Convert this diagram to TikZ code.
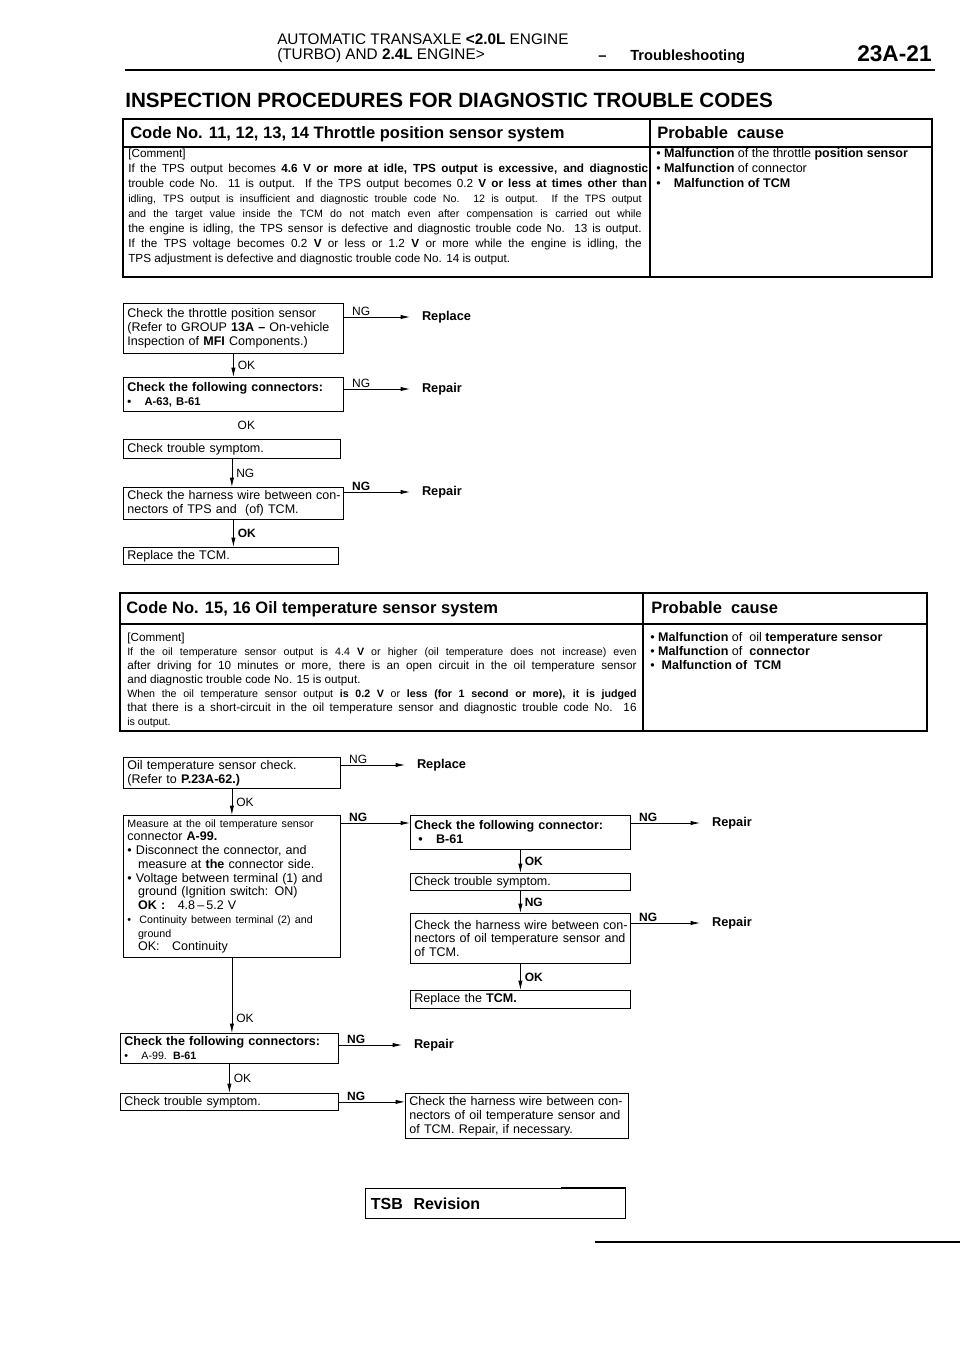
\documentclass[tikz,border=0pt]{standalone}
\usepackage{fontspec}
\setmainfont{Liberation Sans}
\usetikzlibrary{arrows.meta,positioning}

\newcommand{\jl}[2]{\makebox[#1][s]{#2}}
\newcommand{\smf}{\fontsize{8}{10.3}\selectfont}

\begin{document}
\begin{tikzpicture}[x=0.75pt,y=-0.75pt,
    txt/.style={anchor=base west,inner sep=0pt,font=\fontsize{8.8}{10}\selectfont},
    sml/.style={anchor=base west,inner sep=0pt,font=\fontsize{8}{10}\selectfont},
    head/.style={anchor=base west,inner sep=0pt,font=\bfseries\fontsize{12.4}{14}\selectfont},
    cause/.style={anchor=base west,inner sep=0pt,font=\fontsize{9.4}{11}\selectfont},
    flow/.style={draw,line width=0.6pt,anchor=north west,inner xsep=3pt,inner ysep=1pt,
      align=left,font=\fontsize{9.4}{10.4}\selectfont},
    res/.style={anchor=west,inner sep=0pt,outer xsep=9pt,font=\bfseries\fontsize{9.6}{11}\selectfont},
    lbl/.style={inner sep=1pt,font=\fontsize{9}{10}\selectfont},
    lblb/.style={inner sep=1pt,font=\bfseries\fontsize{9}{10}\selectfont},
    ng/.style={anchor=south west,pos=0,xshift=5pt},
    arr/.style={line width=0.6pt,-{Latex[length=7pt,width=3.2pt]}},
    tframe/.style={line width=0.8pt},
    tedge/.style={line width=1.6pt}]
\useasboundingbox (0,0) rectangle (960,1358);

\node[anchor=base west,inner sep=0pt,font=\fontsize{11.5}{13}\selectfont] (hdra) at (277,45) {AUTOMATIC TRANSAXLE \textbf{<2.0L} ENGINE};
\node[anchor=base west,inner sep=0pt,font=\fontsize{11.5}{13}\selectfont] (hdrb) at (277,60) {(TURBO) AND \textbf{2.4L} ENGINE>};
\node[anchor=base west,inner sep=0pt,font=\bfseries\fontsize{11}{13}\selectfont] (dash) at (598,61) {–};
\node[anchor=base west,inner sep=0pt,font=\bfseries\fontsize{11}{13}\selectfont] (trbl) at (630,61) {Troubleshooting};
\node[anchor=base west,inner sep=0pt,font=\bfseries\fontsize{17}{20}\selectfont] (pgno) at (857,62) {23A-21};
\draw[line width=2.2pt] (125,70) -- (935,70);
\node[anchor=base west,inner sep=0pt,font=\bfseries\fontsize{15.5}{18}\selectfont] (ttl) at (125,108) {INSPECTION PROCEDURES FOR DIAGNOSTIC TROUBLE CODES};

\draw[tframe] (123,119) rectangle (932,277);
\draw[tedge] (123,119) -- (123,277) -- (932,277);
\draw[tframe] (123,147) -- (932,147);
\draw[tframe] (650,119) -- (650,277);
\node[head] (code1) at (130,139) {Code No. 11, 12, 13, 14 Throttle position sensor system};
\node[head] (pc1) at (657,139) {Probable\ \ cause};
\node[txt] (c1a) at (128,158) {[Comment]};
\node[txt] (c1b) at (128,173) {\jl{390pt}{If the TPS output becomes \textbf{4.6 V or more at idle, TPS output is excessive, and diagnostic}}};
\node[txt] (c1c) at (128,188) {\jl{389pt}{trouble code No. 11 is output. If the TPS output becomes 0.2 \textbf{V or less at times other than}}};
\node[sml] (c1d) at (128,203) {\jl{385pt}{idling, TPS output is insufficient and diagnostic trouble code No. 12 is output. If the TPS output}};
\node[sml] (c1e) at (128,218) {\jl{385pt}{and the target value inside the TCM do not match even after compensation is carried out while}};
\node[txt] (c1f) at (128,233) {\jl{385pt}{the engine is idling, the TPS sensor is defective and diagnostic trouble code No. 13 is output.}};
\node[txt] (c1g) at (128,248) {\jl{385pt}{If the TPS voltage becomes 0.2 \textbf{V} or less or 1.2 \textbf{V} or more while the engine is idling, the}};
\node[txt] (c1h) at (128,263) {TPS adjustment is defective and diagnostic trouble code No. 14 is output.};
\node[cause] (p1a) at (656,158) {\textbullet\ \textbf{Malfunction} of the throttle \textbf{position sensor}};
\node[cause] (p1b) at (656,173) {\textbullet\ \textbf{Malfunction} of connector};
\node[cause] (p1c) at (656,188) {\textbullet\hspace{10pt}\textbf{Malfunction of TCM}};

\node[flow,text width=159pt,minimum height=37.5pt] (tps) at (123,303) {Check the throttle position sensor\\(Refer to GROUP \textbf{13A –} On-vehicle\\Inspection of \textbf{MFI} Components.)};
\node[res] (rep1) at (410,317) {Replace};
\draw[arr] (tps.east |- rep1.west) -- node[lbl,ng]{NG} (rep1.west);
\node[flow,text width=159pt,minimum height=25.5pt] (conn1) at (123,377) {\textbf{Check the following connectors:}\\{\fontsize{8.4}{10.4}\selectfont\textbf{\textbullet\hspace{10pt}A-63, B-61}}};
\draw[arr] (tps.south) -- node[lbl,right=2pt]{OK} (conn1.north);
\node[res] (rep2) at (410,389) {Repair};
\draw[arr] (conn1.east |- rep2.west) -- node[lbl,ng]{NG} (rep2.west);
\node[flow,text width=156.75pt,minimum height=14.25pt] (symp1) at (123,439) {Check trouble symptom.};
\path (conn1.south) -- node[lbl,right=2pt]{OK} (conn1.south |- symp1.north);
\node[flow,text width=159pt,minimum height=24pt] (harn1) at (123,487) {\mbox{Check the harness wire between con-}\\nectors of TPS and\ \ (of) TCM.};
\draw[arr] (symp1.south) -- node[lbl,right=2pt]{NG} (symp1.south |- harn1.north);
\node[res] (rep3) at (410,492) {Repair};
\draw[arr] (harn1.east |- rep3.west) -- node[lblb,ng]{NG} (rep3.west);
\node[flow,text width=155.25pt,minimum height=12.75pt] (tcm1) at (123,547) {Replace the TCM.};
\draw[arr] (harn1.south) -- node[lblb,right=2pt]{OK} (harn1.south |- tcm1.north);

\draw[tframe] (120,593) rectangle (927,731);
\draw[tedge] (120,593) -- (120,731) -- (927,731);
\draw[tframe] (120,624) -- (927,624);
\draw[tframe] (643,593) -- (643,731);
\node[head] (code2) at (126,613) {Code No. 15, 16 Oil temperature sensor system};
\node[head] (pc2) at (651,613) {Probable\ \ cause};
\node[txt] (c2a) at (127,641) {[Comment]};
\node[sml] (c2b) at (127,655) {\jl{382pt}{If the oil temperature sensor output is 4.4 \textbf{V} or higher (oil temperature does not increase) even}};
\node[txt] (c2c) at (127,669) {\jl{382pt}{after driving for 10 minutes or more, there is an open circuit in the oil temperature sensor}};
\node[txt] (c2d) at (127,683) {and diagnostic trouble code No. 15 is output.};
\node[sml] (c2e) at (127,697) {\jl{382pt}{When the oil temperature sensor output \textbf{is 0.2 V} or \textbf{less (for 1 second or more), it is judged}}};
\node[txt] (c2f) at (127,711) {\jl{382pt}{that there is a short-circuit in the oil temperature sensor and diagnostic trouble code No. 16}};
\node[sml] (c2g) at (127,725) {is output.};
\node[cause] (p2a) at (650,641) {\textbullet\ \textbf{Malfunction} of\ \ oil \textbf{temperature sensor}};
\node[cause] (p2b) at (650,655) {\textbullet\ \textbf{Malfunction} of\ \ \textbf{connector}};
\node[cause] (p2c) at (650,669) {\textbullet\ \ \textbf{Malfunction of\ \ TCM}};

\node[flow,text width=156.75pt,minimum height=23.25pt] (oilchk) at (123,757) {Oil temperature sensor check.\\(Refer to \textbf{P.23A-62.)}};
\node[res] (rep4) at (405,765) {Replace};
\draw[arr] (oilchk.east |- rep4.west) -- node[lbl,ng]{NG} (rep4.west);
\node[flow,text width=156.75pt,minimum height=106.5pt,font=\fontsize{9.4}{10.3}\selectfont] (meas) at (123,815) {{\smf Measure at the oil temperature sensor}\\
connector \textbf{A-99.}\\
\textbullet\ Disconnect the connector, and\\
\hspace*{8pt}measure at \textbf{the} connector side.\\
\textbullet\ Voltage between terminal (1) and\\
\hspace*{8pt}ground (Ignition switch: ON)\\
\hspace*{8pt}\textbf{OK :}\quad 4.8\,–\,5.2 V\\
{\smf\textbullet\ \ Continuity between terminal (2) and}\\
{\smf\hspace*{8pt}ground}\\
\hspace*{8pt}OK:\quad Continuity};
\draw[arr] (oilchk.south) -- node[lbl,right=2pt]{OK} (oilchk.south |- meas.north);
\node[flow,text width=159pt,minimum height=25.5pt,font=\bfseries\fontsize{9.4}{10.4}\selectfont] (conn2) at (410,815) {Check the following connector:\\\hspace*{3pt}\textbullet\hspace{10pt}B-61};
\draw[arr] ([yshift=-6pt]meas.north east) -- node[lblb,ng]{NG} ([yshift=-6pt]conn2.north west);
\node[res] (rep5) at (700,823) {Repair};
\draw[arr] (conn2.east |- rep5.west) -- node[lblb,ng]{NG} (rep5.west);
\node[flow,text width=159pt,minimum height=12.75pt] (symp2) at (410,873) {Check trouble symptom.};
\draw[arr] (conn2.south) -- node[lblb,right=2pt]{OK} (symp2.north);
\node[flow,text width=159pt,minimum height=37.5pt] (harn2) at (410,913) {\mbox{Check the harness wire between con-}\\\mbox{nectors of oil temperature sensor and}\\of TCM.};
\draw[arr] (symp2.south) -- node[lblb,right=2pt]{NG} (harn2.north);
\node[res] (rep6) at (700,923) {Repair};
\draw[arr] (harn2.east |- rep6.west) -- node[lblb,ng]{NG} (rep6.west);
\node[flow,text width=159pt,minimum height=13.5pt] (tcm2) at (410,990) {Replace the \textbf{TCM.}};
\draw[arr] (harn2.south) -- node[lblb,right=2pt]{OK} (tcm2.north);

\node[flow,text width=157.5pt,minimum height=22.5pt] (conn3) at (120,1033) {\textbf{Check the following connectors:}\\{\fontsize{8}{10.4}\selectfont\textbullet\hspace{10pt}A-99. \textbf{B-61}}};
\draw[arr] (meas.south) -- node[lbl,right=2pt,pos=0.8]{OK} (meas.south |- conn3.north);
\node[res] (rep7) at (402,1045) {Repair};
\draw[arr] (conn3.east |- rep7.west) -- node[lblb,ng]{NG} (rep7.west);
\node[flow,text width=157.5pt,minimum height=12.75pt] (symp3) at (120,1093) {Check trouble symptom.};
\draw[arr] (conn3.south) -- node[lbl,right=2pt]{OK} (conn3.south |- symp3.north);
\node[flow,text width=161.25pt,minimum height=33.75pt] (harn3) at (405,1093) {\mbox{Check the harness wire between con-}\\nectors of oil temperature sensor and\\of TCM. Repair, if necessary.};
\draw[arr] (symp3.east) -- node[lblb,ng]{NG} (harn3.west |- symp3.east);

\node[draw,tframe,anchor=north west,text width=187pt,minimum height=22.5pt,inner xsep=4pt,align=left,font=\bfseries\fontsize{12}{14}\selectfont] (tsb) at (365,1188) {TSB\ \ Revision};
\draw[line width=1.8pt] (tsb.north east) -- ++(-65,0);
\draw[line width=0.8pt] (595,1242) -- (960,1242);
\end{tikzpicture}
\end{document}
